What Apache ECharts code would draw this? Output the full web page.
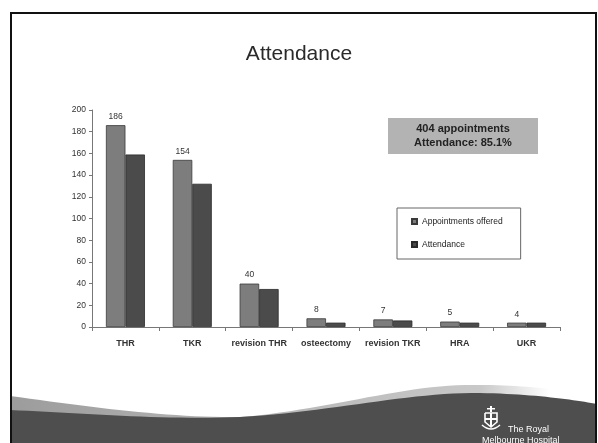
<!DOCTYPE html>
<html>
<head>
<meta charset="utf-8">
<script src="https://cdn.jsdelivr.net/npm/echarts@6/dist/echarts.min.js"></script>
<style>
  html, body { margin: 0; padding: 0; background: #ffffff; }
  #chart { width: 598px; height: 443px; }
</style>
</head>
<body>
<div id="chart"></div>
<script>
// Procedures seen in the clinic
const categories = ['THR', 'TKR', 'revision THR', 'osteectomy', 'revision TKR', 'HRA', 'UKR'];
// Appointments offered per procedure
const offered = [186, 154, 40, 8, 7, 5, 4];
// Appointments attended per procedure
const attended = [159, 132, 35, 4, 6, 4, 4];
const yTicks = [0, 20, 40, 60, 80, 100, 120, 140, 160, 180, 200];

const totalOffered = offered.reduce((a, b) => a + b, 0);
const totalAttended = attended.reduce((a, b) => a + b, 0);
const rate = (totalAttended / totalOffered * 100).toFixed(1);

const FONT = '"Liberation Sans", Arial, sans-serif';

// Sample a chain of cubic Bezier segments into polygon points for the footer swoosh
function bezierChain(start, segs, steps) {
  const pts = [start];
  let p0 = start;
  segs.forEach(([c1, c2, p3]) => {
    for (let i = 1; i <= steps; i++) {
      const t = i / steps, u = 1 - t;
      pts.push([
        u * u * u * p0[0] + 3 * u * u * t * c1[0] + 3 * u * t * t * c2[0] + t * t * t * p3[0],
        u * u * u * p0[1] + 3 * u * u * t * c1[1] + 3 * u * t * t * c2[1] + t * t * t * p3[1]
      ]);
    }
    p0 = p3;
  });
  return pts;
}
const lightEdge = bezierChain([10, 396], [
  [[90, 407], [170, 418], [240, 417]],
  [[320, 411], [400, 386], [465, 385]],
  [[520, 384], [560, 390], [597, 395]]
], 24).concat([[597, 443], [10, 443]]);
const darkEdge = bezierChain([10, 410], [
  [[80, 413], [160, 420], [240, 417]],
  [[330, 412], [410, 392], [480, 393]],
  [[535, 394], [575, 400], [597, 404]]
], 24).concat([[597, 443], [10, 443]]);

const chart = echarts.init(document.getElementById('chart'), null, { renderer: 'canvas' });

const crestZ = 5;
chart.setOption({
  animation: false,
  backgroundColor: '#ffffff',
  title: {
    text: 'Attendance',
    left: 'center',
    top: 39,
    textStyle: { fontFamily: FONT, fontSize: 21, fontWeight: 'normal', color: '#2a2a2a' }
  },
  grid: { left: 92, right: 38, top: 110, bottom: 116 },
  legend: {
    orient: 'vertical',
    left: 397,
    top: 208,
    padding: [9, 18, 10, 14],
    itemGap: 14,
    itemWidth: 5,
    itemHeight: 5,
    icon: 'rect',
    borderColor: '#666',
    borderWidth: 1,
    backgroundColor: '#fff',
    textStyle: { fontFamily: FONT, fontSize: 8.5, color: '#222' },
    data: ['Appointments offered', 'Attendance']
  },
  xAxis: {
    type: 'category',
    data: categories,
    axisLine: { lineStyle: { color: '#777' } },
    axisTick: { show: true, length: 4, lineStyle: { color: '#777' } },
    axisLabel: { interval: 0, fontFamily: FONT, fontSize: 9, fontWeight: 'bold', color: '#333', margin: 12 }
  },
  yAxis: {
    type: 'value',
    min: yTicks[0],
    max: yTicks[yTicks.length - 1],
    interval: 20,
    splitLine: { show: false },
    axisLine: { show: true, lineStyle: { color: '#777' } },
    axisTick: { show: true, length: 3, lineStyle: { color: '#777' } },
    axisLabel: { fontFamily: FONT, fontSize: 8.5, color: '#333', margin: 6 }
  },
  series: [
    {
      name: 'Appointments offered',
      type: 'bar',
      data: offered,
      barWidth: 19.5,
      barGap: '0%',
      itemStyle: { color: '#7d7d7d', borderColor: '#3a3a3a', borderWidth: 0.8 },
      label: {
        show: true,
        position: 'top',
        distance: 4,
        fontFamily: FONT,
        fontSize: 8.5,
        color: '#333'
      }
    },
    {
      name: 'Attendance',
      type: 'bar',
      data: attended,
      barWidth: 19.5,
      itemStyle: { color: '#4b4b4b', borderColor: '#2a2a2a', borderWidth: 0.8 }
    }
  ],
  graphic: [
    // summary box
    {
      type: 'rect',
      shape: { x: 388, y: 118, width: 150, height: 36 },
      style: { fill: '#b3b3b3' },
      z: 10
    },
    {
      type: 'text',
      x: 463,
      y: 136,
      style: {
        text: totalOffered + ' appointments\nAttendance: ' + rate + '%',
        fontFamily: FONT,
        fontSize: 11,
        fontWeight: 'bold',
        fill: '#222',
        align: 'center',
        verticalAlign: 'middle',
        lineHeight: 14
      },
      z: 11
    },
    // light sweep behind the footer band
    {
      type: 'polygon',
      shape: { points: lightEdge },
      style: {
        fill: {
          type: 'linear', x: 0, y: 0, x2: 1, y2: 0,
          colorStops: [
            { offset: 0, color: '#9c9c9c' },
            { offset: 0.45, color: '#b8b8b8' },
            { offset: 0.8, color: '#c8c8c8' },
            { offset: 0.92, color: '#ffffff' },
            { offset: 1, color: '#ffffff' }
          ],
          global: false
        }
      },
      z: 1
    },
    // dark footer band
    {
      type: 'polygon',
      shape: { points: darkEdge },
      style: { fill: '#4e4e4e' },
      z: 2
    },
    // crest
    { type: 'rect', z: crestZ, shape: { x: 490, y: 406, width: 2, height: 6 }, style: { fill: '#fff' } },
    { type: 'rect', z: crestZ, shape: { x: 487, y: 408, width: 8, height: 1.5 }, style: { fill: '#fff' } },
    { type: 'polyline', z: crestZ, shape: { points: [[485, 413], [497, 413], [497, 422], [491, 427], [485, 422], [485, 413]] }, style: { stroke: '#fff', lineWidth: 1.6, fill: null } },
    { type: 'rect', z: crestZ, shape: { x: 490, y: 413, width: 2, height: 13 }, style: { fill: '#fff' } },
    { type: 'rect', z: crestZ, shape: { x: 485, y: 418, width: 12, height: 2 }, style: { fill: '#fff' } },
    { type: 'bezierCurve', z: crestZ, shape: { x1: 482, y1: 425, x2: 500, y2: 425, cpx1: 491, cpy1: 433 }, style: { stroke: '#fff', lineWidth: 1.6, fill: null } },
    {
      type: 'text',
      x: 508,
      y: 425,
      style: { text: 'The Royal', fontFamily: FONT, fontSize: 9, fill: '#ffffff' },
      z: crestZ
    },
    {
      type: 'text',
      x: 482,
      y: 436,
      style: { text: 'Melbourne Hospital', fontFamily: FONT, fontSize: 9, fill: '#ffffff' },
      z: crestZ
    },
    // slide frame
    {
      type: 'rect',
      shape: { x: 11, y: 13, width: 585, height: 436 },
      style: { fill: null, stroke: '#111', lineWidth: 2 },
      z: 20
    }
  ]
});
</script>
</body>
</html>
